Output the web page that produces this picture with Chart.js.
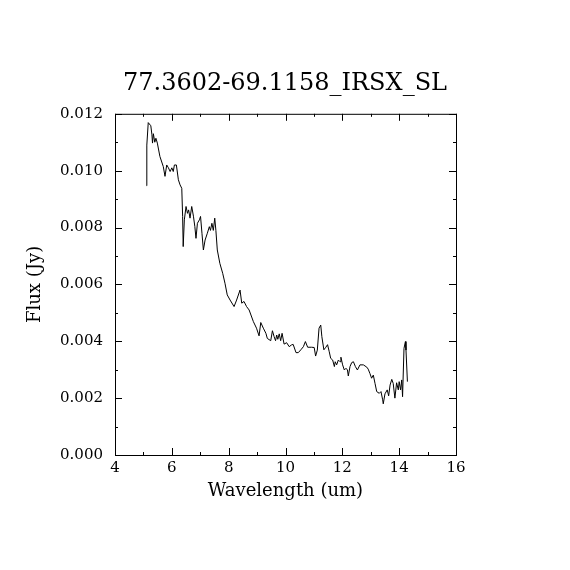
<!DOCTYPE html>
<html>
<head>
<meta charset="utf-8">
<script src="https://cdn.jsdelivr.net/npm/chart.js@4"></script>
<style>
  html, body { margin: 0; padding: 0; background: #fff; }
  #wrap { width: 570px; height: 570px; }
</style>
</head>
<body>
<div id="wrap"><canvas id="spectrum"></canvas></div>
<script>
// spectrum
var wavelength = [
  5.11, 5.12, 5.17, 5.26, 5.30, 5.32, 5.35, 5.40, 5.44, 5.49,
  5.58, 5.70, 5.76, 5.82, 5.88, 5.94, 6.00, 6.05, 6.09, 6.16,
  6.23, 6.29, 6.35, 6.38, 6.40, 6.44, 6.50, 6.55, 6.59, 6.64,
  6.70, 6.76, 6.81, 6.85, 6.90, 6.97, 7.01, 7.06, 7.11, 7.17,
  7.25, 7.32, 7.36, 7.41, 7.46, 7.51, 7.55, 7.60, 7.69, 7.79,
  7.87, 7.95, 8.05, 8.19, 8.28, 8.40, 8.46, 8.54, 8.63, 8.72,
  8.87, 8.98, 9.07, 9.13, 9.22, 9.31, 9.36, 9.48, 9.54, 9.60,
  9.65, 9.69, 9.73, 9.78, 9.83, 9.88, 9.95, 10.04, 10.13, 10.21,
  10.27, 10.37, 10.45, 10.54, 10.63, 10.70, 10.78, 10.92, 11.01, 11.06,
  11.12, 11.18, 11.24, 11.28, 11.35, 11.42, 11.48, 11.54, 11.59, 11.66,
  11.72, 11.75, 11.80, 11.86, 11.92, 11.95, 12.01, 12.07, 12.13, 12.18,
  12.21, 12.27, 12.33, 12.39, 12.46, 12.53, 12.62, 12.74, 12.86, 12.91,
  12.97, 13.03, 13.09, 13.15, 13.21, 13.30, 13.36, 13.42, 13.44, 13.50,
  13.58, 13.63, 13.68, 13.74, 13.79, 13.85, 13.91, 13.97, 14.00, 14.05,
  14.09, 14.12, 14.17, 14.22, 14.24, 14.29
];
var flux = [
  0.00947, 0.01090, 0.01169, 0.01158, 0.01126, 0.01097, 0.01130, 0.01100, 0.01114, 0.01097,
  0.01050, 0.01014, 0.00980, 0.01020, 0.01010, 0.00997, 0.01010, 0.00997, 0.01020, 0.01020,
  0.00968, 0.00950, 0.00938, 0.00839, 0.00733, 0.00827, 0.00874, 0.00850, 0.00862, 0.00833,
  0.00874, 0.00840, 0.00803, 0.00762, 0.00815, 0.00827, 0.00839, 0.00780, 0.00721, 0.00756,
  0.00780, 0.00803, 0.00790, 0.00815, 0.00790, 0.00833, 0.00790, 0.00721, 0.00674, 0.00639,
  0.00604, 0.00563, 0.00545, 0.00522, 0.00545, 0.00580, 0.00534, 0.00540, 0.00522, 0.00510,
  0.00469, 0.00446, 0.00419, 0.00466, 0.00446, 0.00428, 0.00410, 0.00402, 0.00437, 0.00416,
  0.00402, 0.00422, 0.00407, 0.00426, 0.00402, 0.00428, 0.00390, 0.00395, 0.00381, 0.00387,
  0.00389, 0.00360, 0.00360, 0.00370, 0.00381, 0.00399, 0.00379, 0.00379, 0.00378, 0.00348,
  0.00369, 0.00446, 0.00457, 0.00416, 0.00370, 0.00379, 0.00388, 0.00363, 0.00340, 0.00334,
  0.00311, 0.00328, 0.00317, 0.00334, 0.00328, 0.00344, 0.00317, 0.00299, 0.00305, 0.00299,
  0.00278, 0.00311, 0.00325, 0.00328, 0.00311, 0.00299, 0.00317, 0.00317, 0.00309, 0.00302,
  0.00287, 0.00270, 0.00281, 0.00252, 0.00223, 0.00217, 0.00223, 0.00194, 0.00180, 0.00215,
  0.00229, 0.00208, 0.00246, 0.00266, 0.00252, 0.00200, 0.00254, 0.00229, 0.00258, 0.00229,
  0.00264, 0.00205, 0.00375, 0.00399, 0.00369, 0.00258
];
var xTicks = [4, 6, 8, 10, 12, 14, 16];
var yTicks = [0.000, 0.002, 0.004, 0.006, 0.008, 0.010, 0.012];
var titleText = "77.3602-69.1158_IRSX_SL";
var xLabel = "Wavelength (um)";
var yLabel = "Flux (Jy)";

var serif = "'DejaVu Serif', 'Liberation Serif', serif";

// box around the plot plus inward major/minor ticks on all four sides
var frameTicks = {
  id: "frameTicks",
  afterDraw: function (chart) {
    var ctx = chart.ctx;
    var a = chart.chartArea;
    var xs = chart.scales.x, ys = chart.scales.y;
    ctx.save();
    ctx.strokeStyle = "#000";
    ctx.lineWidth = 1;
    ctx.strokeRect(a.left + 0.5, a.top + 0.5, a.right - a.left, a.bottom - a.top);
    ctx.beginPath();
    for (var v = xs.min; v <= xs.max + 1e-9; v += 1) {
      var len = (Math.round(v) % 2 === 0) ? 7 : 3;
      var px = Math.round(xs.getPixelForValue(v)) + 0.5;
      ctx.moveTo(px, a.bottom); ctx.lineTo(px, a.bottom - len);
      ctx.moveTo(px, a.top); ctx.lineTo(px, a.top + len);
    }
    for (var i = 0; i <= 12; i++) {
      var val = i * 0.001;
      var l2 = (i % 2 === 0) ? 7 : 3;
      var py = Math.round(ys.getPixelForValue(val)) + 0.5;
      ctx.moveTo(a.left, py); ctx.lineTo(a.left + l2, py);
      ctx.moveTo(a.right, py); ctx.lineTo(a.right - l2, py);
    }
    ctx.stroke();
    ctx.restore();
  }
};

var points = wavelength.map(function (w, i) { return { x: w, y: flux[i] }; });

new Chart(document.getElementById("spectrum"), {
  type: "line",
  data: {
    datasets: [{
      data: points,
      borderColor: "#000",
      borderWidth: 1,
      pointRadius: 0,
      tension: 0,
      fill: false
    }]
  },
  options: {
    responsive: true,
    maintainAspectRatio: false,
    animation: false,
    layout: { padding: 0 },
    plugins: {
      legend: { display: false },
      tooltip: { enabled: false },
      title: {
        display: true,
        text: titleText,
        color: "#000",
        font: { family: serif, size: 24, weight: "normal" },
        padding: { top: 69, bottom: 16 }
      }
    },
    scales: {
      x: {
        type: "linear",
        min: 4,
        max: 16,
        afterBuildTicks: function (scale) {
          scale.ticks = xTicks.map(function (v) { return { value: v }; });
        },
        afterFit: function (scale) { scale.height = 115; },
        grid: { display: false, drawTicks: false },
        border: { display: false },
        ticks: {
          color: "#000",
          padding: 4,
          maxRotation: 0,
          font: { family: serif, size: 15 },
          callback: function (v) { return String(v); }
        },
        title: {
          display: true,
          text: xLabel,
          color: "#000",
          font: { family: serif, size: 18 },
          padding: { top: 0, bottom: 68 }
        }
      },
      y: {
        type: "linear",
        min: 0,
        max: 0.012,
        afterBuildTicks: function (scale) {
          scale.ticks = yTicks.map(function (v) { return { value: v }; });
        },
        afterFit: function (scale) { scale.width = 115; },
        grid: { display: false, drawTicks: false },
        border: { display: false },
        ticks: {
          color: "#000",
          padding: 12,
          font: { family: serif, size: 15 },
          callback: function (v) { return v.toFixed(3); }
        },
        title: {
          display: true,
          text: yLabel,
          color: "#000",
          font: { family: serif, size: 18 },
          padding: { top: 25, bottom: 0 }
        }
      },
      // empty right-hand margin so the title centres over the whole page
      yRight: {
        type: "linear",
        position: "right",
        min: 0,
        max: 0.012,
        afterFit: function (scale) { scale.width = 114; },
        grid: { display: false, drawTicks: false },
        border: { display: false },
        ticks: { display: false }
      }
    }
  },
  plugins: [frameTicks]
});
</script>
</body>
</html>
